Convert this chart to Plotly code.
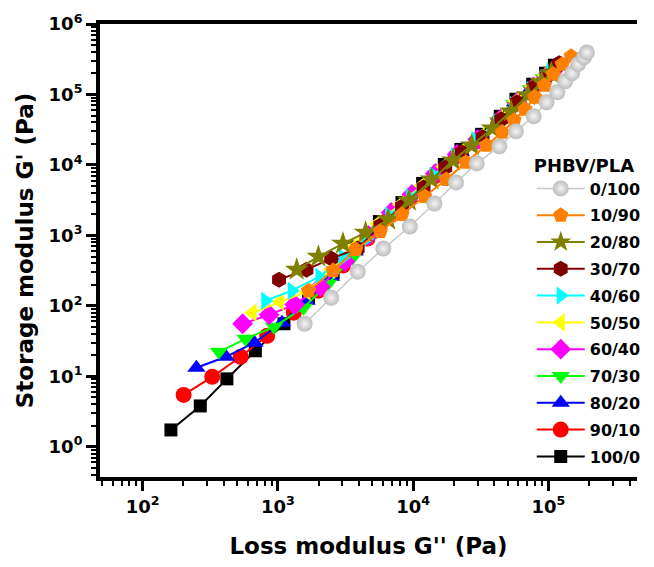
import plotly.graph_objects as go

# ---- data (G'' loss modulus, G' storage modulus, Pa) ----
names = ["0/100", "10/90", "20/80", "30/70", "40/60", "50/50",
         "60/40", "70/30", "80/20", "90/10", "100/0"]

x_0_100 = [1578, 2478, 3896, 6026, 9462, 14380, 20790, 29570, 43450, 57700,
           78000, 97000, 116700, 133400, 150000, 166000, 183400, 192800]
y_0_100 = [55.6, 130, 305, 649, 1334, 2833, 5636, 10500, 18330, 29950,
           48970, 77400, 107500, 154000, 200400, 269000, 335000, 394500]

x_10_90 = [1687, 2564, 3767, 5728, 8279, 12190, 17580, 24600, 34920, 45710,
           55850, 67140, 79430, 93760, 109100, 126800, 147600]
y_10_90 = [164, 316, 628, 1132, 1977, 3565, 6223, 10860, 18930, 28970,
           42950, 61660, 91200, 135200, 193600, 269000, 349400]

x_20_80 = [1380, 1995, 3030, 4454, 6548, 9311, 13680, 19770, 27160, 38640,
           53090, 70630, 89330, 105400]
y_20_80 = [326, 499, 764, 1096, 1679, 3126, 6223, 11590, 18930, 33040,
           57680, 97500, 149000, 200000]

x_30_70 = [1021, 1629, 2478, 3896, 5728, 8279, 11960, 17300, 22960, 32660,
           44870, 58750, 78000, 97050, 112800, 120500]
y_30_70 = [235, 326, 468, 649, 1377, 2570, 4786, 9207, 15060, 24600,
           44360, 77450, 126500, 181500, 243800, 278000]

x_40_60 = [807, 1268, 2028, 3030, 4529, 6653, 9462, 14150, 20460, 29040,
           41980, 55850, 74300, 92260, 103700]
y_40_60 = [118, 164, 259, 483, 900, 1914, 3451, 7090, 13210, 22300,
           40270, 70150, 114800, 164400, 213800]

x_50_50 = [649, 1037, 1629, 2478, 3705, 5445, 8000, 11560, 16710, 22590,
           31620, 43450, 56750, 75510, 93760, 109100]
y_50_50 = [79.8, 114, 159, 326, 693, 1472, 2742, 5105, 9522, 15560,
           25430, 45810, 80000, 130900, 187500, 243800]

x_60_40 = [549, 863, 1334, 2061, 3133, 4688, 6887, 9795, 14620, 21130,
           30060, 44160, 58750, 78000, 97050, 112800]
y_60_40 = [55.6, 74.7, 104, 187, 424, 993, 2110, 3802, 7568, 14100,
           23070, 44360, 77450, 126500, 181500, 236000]

x_70_30 = [367, 577, 938, 1549, 2355, 3581, 5357, 7870, 11380, 16440,
           22230, 31050, 42760, 55850, 74300, 92260, 107200]
y_70_30 = [22.2, 34.0, 50.4, 94.0, 206, 483, 1132, 2328, 4480, 8630,
           14100, 23070, 41580, 72560, 118600, 169900, 220800]

x_80_20 = [250, 413, 671, 1072, 1629, 2478, 3705, 5445, 8000, 11560,
           16710, 22590, 31620, 43450, 56750, 75510, 93760, 109100]
y_80_20 = [13.2, 18.9, 29.9, 57.5, 118, 259, 588, 1291, 2570, 4786,
           9207, 15060, 24600, 44360, 77450, 126500, 181500, 236000]

x_90_10 = [201, 327, 531, 834, 1312, 1995, 3030, 4603, 6776, 9462,
           14380, 20790, 29570, 43450, 57680, 76740, 95500, 110900]
y_90_10 = [5.44, 9.80, 18.9, 37.6, 79.8, 164, 372, 900, 1914, 3337,
           6860, 13210, 21580, 42950, 74990, 122500, 175800, 228000]

x_100_0 = [162, 267, 420, 682, 1110, 1687, 2564, 3830, 5636, 8279,
           11770, 17020, 22590, 32140, 44160, 57680, 76740, 95500, 110900]
y_100_0 = [1.73, 3.79, 9.18, 23.0, 55.6, 130, 296, 670, 1571, 2929,
           5455, 10160, 16600, 27160, 48970, 85500, 139700, 200000, 260000]

x_ticks = [1e2, 1e3, 1e4, 1e5]
x_ticktext = ["10<sup>2</sup>", "10<sup>3</sup>", "10<sup>4</sup>", "10<sup>5</sup>"]
y_ticks = [1e0, 1e1, 1e2, 1e3, 1e4, 1e5, 1e6]
y_ticktext = ["10<sup>0</sup>", "10<sup>1</sup>", "10<sup>2</sup>", "10<sup>3</sup>",
              "10<sup>4</sup>", "10<sup>5</sup>", "10<sup>6</sup>"]

series_x = [x_0_100, x_10_90, x_20_80, x_30_70, x_40_60, x_50_50,
            x_60_40, x_70_30, x_80_20, x_90_10, x_100_0]
series_y = [y_0_100, y_10_90, y_20_80, y_30_70, y_40_60, y_50_50,
            y_60_40, y_70_30, y_80_20, y_90_10, y_100_0]

# ---- styles ----
colors = ["#bdbdbd", "#ff8000", "#808000", "#800000", "#00ffff", "#ffff00",
          "#ff00ff", "#00ff00", "#0000ff", "#ff0000", "#000000"]
symbols = ["circle", "pentagon", "star", "hexagon", "triangle-right",
           "triangle-left", "diamond", "triangle-down", "triangle-up",
           "circle", "square"]
sizes = [16, 16, 18, 16, 16, 16, 16, 16, 16, 16, 13]

fig = go.Figure()
for i in reversed(range(len(names))):
    marker = dict(color=colors[i], symbol=symbols[i], size=sizes[i],
                  line=dict(width=0))
    lw = 2
    lcol = colors[i]
    if i == 0:
        marker["gradient"] = dict(type="radial", color="#f4f4f4")
        lw = 1.5
        lcol = "#c8c8c8"
    fig.add_trace(go.Scatter(
        x=series_x[i], y=series_y[i], mode="lines+markers",
        name="<b>" + names[i] + "</b>", legendgroup=names[i], legendrank=i + 1,
        line=dict(color=lcol, width=lw), marker=marker))

font_family = "DejaVu Sans"
# the page body adds an 8px margin, so the figure is sized to fit inside it
fig.update_layout(
    width=638, height=551,
    margin=dict(l=92, r=0, t=16, b=82),
    paper_bgcolor="white", plot_bgcolor="white",
    font=dict(family=font_family, color="black", size=18),
    showlegend=True,
    legend=dict(
        x=0.804, y=0.726, xanchor="left", yanchor="top",
        bgcolor="rgba(0,0,0,0)",
        title=dict(text="<b>PHBV/PLA</b>", font=dict(size=18, family=font_family)),
        font=dict(size=16, family=font_family, color="black"),
        traceorder="grouped", tracegroupgap=3,
        itemwidth=48,
    ),
    xaxis=dict(
        type="log", range=[1.685, 5.656], automargin=False,
        tickvals=x_ticks, ticktext=["<b>" + t + "</b>" for t in x_ticktext],
        ticks="outside", ticklen=10, tickwidth=3, tickcolor="black",
        showline=True, linewidth=4, linecolor="black", mirror=True,
        showgrid=False, zeroline=False,
        tickfont=dict(size=18, family=font_family),
        minor=dict(tickvals=[m * 10 ** e for e in range(1, 6) for m in range(2, 10)],
                   ticks="outside", ticklen=5, tickwidth=2, tickcolor="black",
                   showgrid=False),
        title=dict(text="<b>Loss modulus G'' (Pa)</b>",
                   font=dict(size=23, family=font_family), standoff=33),
    ),
    yaxis=dict(
        type="log", range=[-0.43, 6.0], automargin=False,
        tickvals=y_ticks, ticktext=["<b>" + t + "</b>" for t in y_ticktext],
        ticks="outside", ticklen=10, tickwidth=3, tickcolor="black",
        showline=True, linewidth=4, linecolor="black", mirror=False,
        showgrid=False, zeroline=False,
        tickfont=dict(size=18, family=font_family),
        minor=dict(tickvals=[m * 10 ** e for e in range(-1, 6) for m in range(2, 10)],
                   ticks="outside", ticklen=5, tickwidth=2, tickcolor="black",
                   showgrid=False),
        title=dict(text="<b>Storage modulus G' (Pa)</b>",
                   font=dict(size=23, family=font_family), standoff=10),
    ),
)

fig.write_html("out.html")
